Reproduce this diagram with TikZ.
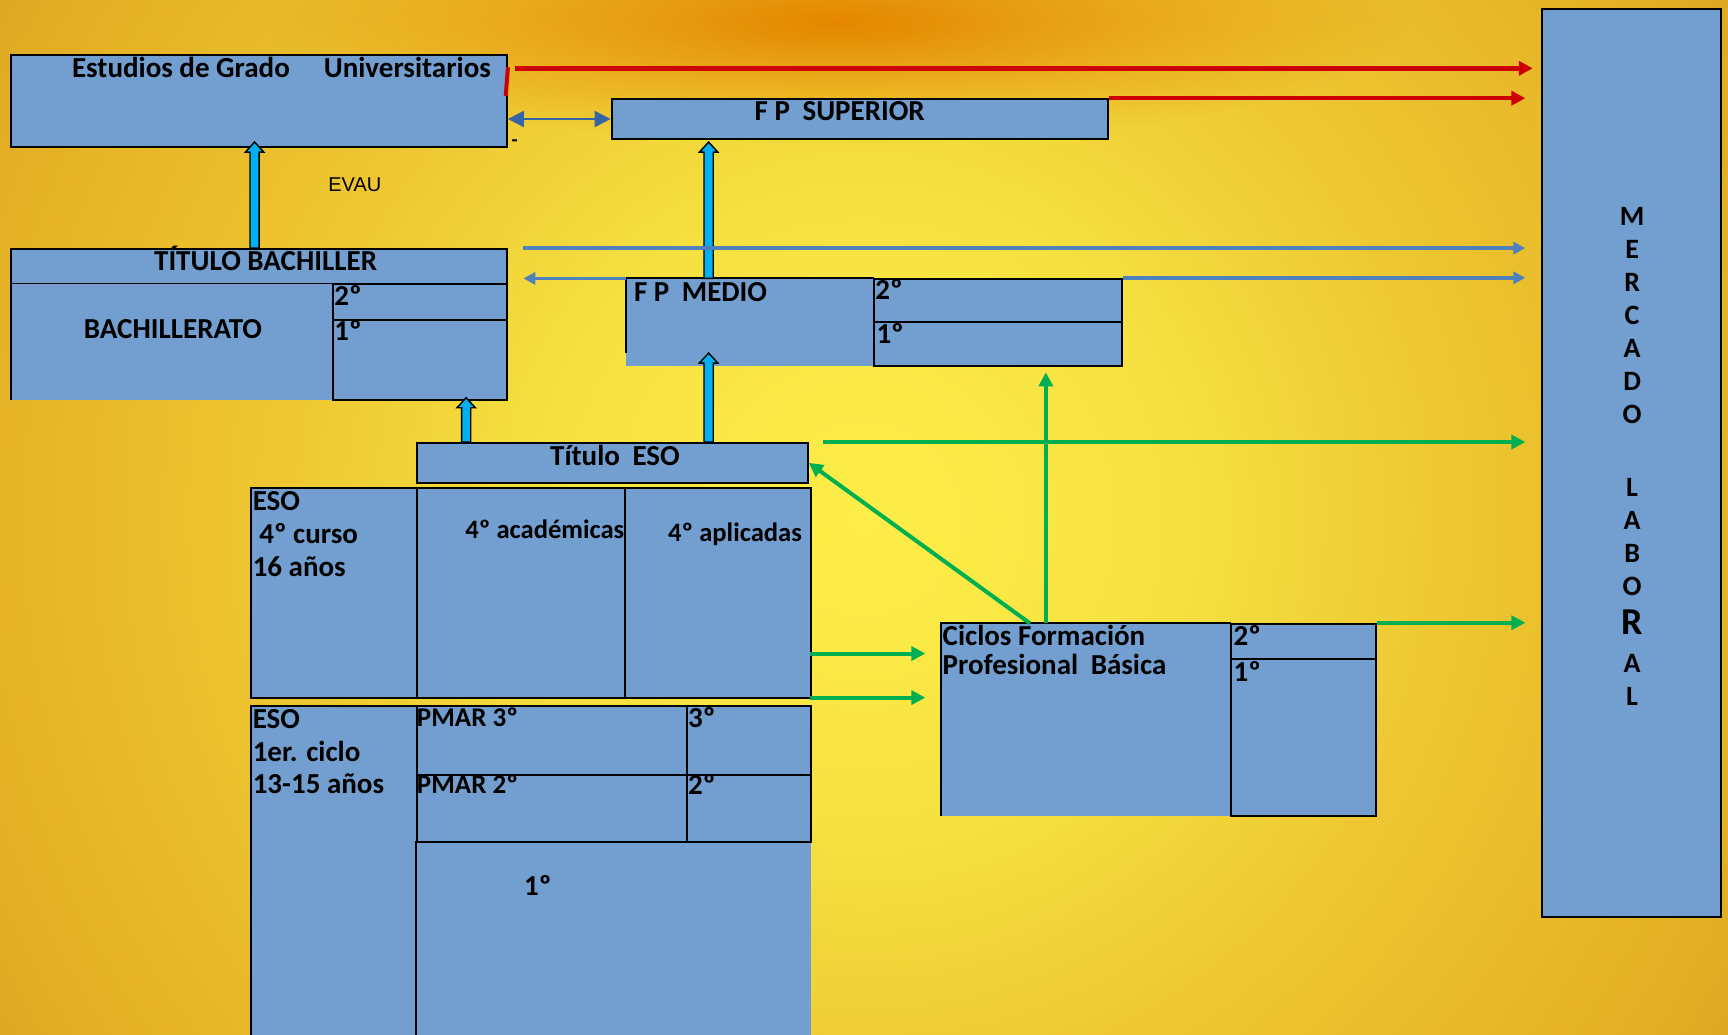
\documentclass[tikz,border=0pt]{standalone}
\usepackage{fontspec}
\setmainfont{Carlito}
\newfontfamily\arialf{Liberation Sans}
\usetikzlibrary{arrows.meta,fit,calc,fadings}
\tikzfading[name=glowfade, inner color=transparent!0, outer color=transparent!100]
\definecolor{boxblue}{RGB}{114,159,207}
\definecolor{arrcyan}{RGB}{0,176,240}
\definecolor{grn}{RGB}{0,176,80}
\definecolor{redd}{RGB}{204,0,0}
\definecolor{lblue}{RGB}{79,129,189}
\definecolor{dblue}{RGB}{52,101,164}
\definecolor{bgA}{RGB}{253,237,72}
\definecolor{bgB}{RGB}{251,233,70}
\definecolor{bgC}{RGB}{245,224,64}
\definecolor{bgD}{RGB}{238,200,50}
\definecolor{bgE}{RGB}{230,180,38}
\definecolor{bgF}{RGB}{222,164,34}
\definecolor{orng}{RGB}{228,134,0}
\pgfdeclareradialshading{bgshade}{\pgfpoint{0bp}{0bp}}{color(0bp)=(bgA); color(3bp)=(bgB); color(7.5bp)=(bgC); color(13bp)=(bgD); color(19.5bp)=(bgE); color(24bp)=(bgF); color(50bp)=(bgF)}
\newcommand\cyarrow[2]{\filldraw[fill=arrcyan,draw=black,line width=0.7pt] let \p1=#1,\p2=#2 in (\x1-2.3pt,\y1) -- (\x1-2.3pt,\y2-5pt) -- (\x1-4.6pt,\y2-5pt) -- (\x1,\y2) -- (\x1+4.6pt,\y2-5pt) -- (\x1+2.3pt,\y2-5pt) -- (\x1+2.3pt,\y1) -- cycle;}
\begin{document}
\begin{tikzpicture}[x=0.551pt,y=-0.551pt,
  box/.style={draw=black,fill=boxblue,line width=1pt,inner sep=0pt},
  fillonly/.style={fill=boxblue,inner sep=0pt},
  edge/.style={draw=black,line width=1pt},
  lbl/.style={font=\bfseries\fontsize{14.5}{16.3}\selectfont,inner sep=0pt,text=black},
  redarr/.style={draw=redd,line width=2.3pt,-{Triangle[length=7pt,width=7pt]}},
  grnarr/.style={draw=grn,line width=2pt,-{Triangle[length=7pt,width=7pt]}},
  bluearr/.style={draw=lblue,line width=1.8pt,-{Triangle[length=6pt,width=6pt]}},
]
\clip (0,0) rectangle (1568,939);
% background
\fill[bgF] (0,0) rectangle (1568,939);
\shade[shading=bgshade] (784,470) circle (1000);
\fill[orng,path fading=glowfade] (760,20) ellipse (520 and 110);

% boxes
\node[box,fit={(10,50)(460,133)}] (grado) {};
\node[box,fit={(555,90)(1005,126)}] (fpsup) {};
\node[box,fit={(10,226)(460,258)}] (titbach) {};
\node[fillonly,fit={(10,258)(302,363)}] (bach) {};
\draw[edge] (bach.south west) -- (bach.north west);
\node[box,fit={(302,258)(460,290)}] (bach2) {};
\node[box,fit={(302,290)(460,363)}] (bach1) {};

\node[fillonly,fit={(568,253)(793,332)}] (fpmed) {};
\draw[edge] ($(fpmed.south west)+(0,-12)$) -- (fpmed.north west) -- (fpmed.north east);
\node[box,fit={(793,253)(1018,292)}] (fpmed2) {};
\node[box,fit={(793,292)(1018,332)}] (fpmed1) {};

\node[box,fit={(378,402)(733,438)}] (titeso) {};
\node[box,fit={(228,443)(378,633)}] (eso4) {};
\node[box,fit={(378,443)(567,633)}] (eso4ac) {};
\node[box,fit={(567,443)(736,633)}] (eso4ap) {};

\node[box,fit={(228,641)(378,950)}] (eso1) {};
\node[box,fit={(378,641)(623,703)}] (pmar3) {};
\node[box,fit={(623,641)(736,703)}] (c3) {};
\node[box,fit={(378,703)(623,764)}] (pmar2) {};
\node[box,fit={(623,703)(736,764)}] (c2) {};
\node[fillonly,fit={(378,764)(736,950)}] (c1) {};
\draw[edge] (c1.south west) -- (c1.north west) -- (c1.north east);

\node[fillonly,fit={(854,566)(1117,740)}] (cfpb) {};
\draw[edge] (cfpb.south west) -- (cfpb.north west) -- (cfpb.north east);
\node[box,fit={(1117,566)(1249,598)}] (cfpb2) {};
\node[box,fit={(1117,598)(1249,740)}] (cfpb1) {};

\node[box,fit={(1399,8)(1562,832)}] (mercado) {};

% labels
\node[lbl,anchor=base west] (tgrado) at (65,70.5) {Estudios de Grado\hspace{17pt}Universitarios};
\node[lbl,anchor=base] (tfpsup) at (762,109.5) {F P\hspace{3pt} SUPERIOR};
\node[font=\arialf\fontsize{10}{12}\selectfont,inner sep=0pt] (evau) at (322,168) {EVAU};
\node[lbl,font=\bfseries\fontsize{10}{11}\selectfont] (dash) at (467,130) {-};
\node[lbl,anchor=base] (ttitbach) at (241,245.5) {TÍTULO BACHILLER};
\node[lbl,anchor=base] (tbach) at (157,307.5) {BACHILLERATO};
\node[lbl,anchor=base west] (tb2) at (303,277) {2º};
\node[lbl,anchor=base west] (tb1) at (303,309) {1º};
\node[lbl,anchor=base west] (tfpmed) at (575,273.5) {F P\hspace{3pt} MEDIO};
\node[lbl,anchor=base west] (tm2) at (794,272) {2º};
\node[lbl,anchor=base west] (tm1) at (795,312) {1º};
\node[lbl,anchor=base] (ttiteso) at (558,422.5) {Título\hspace{3pt} ESO};
\node[lbl,anchor=north west,align=left] (teso4) at (229,446) {ESO\\\ 4º curso\\16 años};
\node[lbl,anchor=base west,font=\bfseries\fontsize{13.3}{16}\selectfont] (tac) at (422,488.5) {4º académicas};
\node[lbl,anchor=base west,font=\bfseries\fontsize{13.3}{16}\selectfont] (tap) at (606,491.5) {4º aplicadas};
\node[lbl,anchor=north west,align=left] (teso1) at (229,643.5) {ESO\\1er. ciclo\\13-15 años};
\node[lbl,anchor=base west,font=\bfseries\fontsize{13.5}{16}\selectfont] (tp3) at (378,659) {PMAR 3º};
\node[lbl,anchor=base west] (t3) at (624,660) {3º};
\node[lbl,anchor=base west,font=\bfseries\fontsize{13.5}{16}\selectfont] (tp2) at (378,720) {PMAR 2º};
\node[lbl,anchor=base west] (t2) at (624,721) {2º};
\node[lbl,anchor=base] (t1) at (488,813) {1º};
\node[lbl,anchor=north west,align=left,font=\bfseries\fontsize{14.5}{14.9}\selectfont] (tcfpb) at (855,566.5) {Ciclos Formación\\Profesional\hspace{3pt} Básica};
\node[lbl,anchor=base west] (tc2) at (1119,586) {2º};
\node[lbl,anchor=base west] (tc1) at (1119,618) {1º};
\node[lbl,anchor=north,align=center,font=\bfseries\fontsize{14}{16.5}\selectfont] (tmerc) at (1481,188)
  {M\\E\\R\\C\\A\\D\\O\\[20pt]L\\A\\B\\O\\[3pt]{\fontsize{19}{16.5}\selectfont R}\\[2.5pt]A\\L};

% red arrows
\coordinate (r1s) at (467,62);
\draw[redarr,shorten >=4pt] (r1s) -- (r1s -| mercado.west);
\draw[redarr,shorten >=7.7pt] (fpsup.north east) -- (fpsup.north east -| mercado.west);
\draw[redd,line width=2pt] ($(grado.north east)+(0,12)$) -- ($(grado.north east)+(-2,38)$);
% blue double arrow
\draw[dblue,line width=1pt,{Triangle[length=8pt,width=8pt]}-{Triangle[length=8pt,width=8pt]}] (grado.east |- fpsup.west) -- (fpsup.west);

% cyan block arrows
\coordinate (ca) at (231,0);
\coordinate (cb) at (643,0);
\coordinate (cc) at (423,0);
\cyarrow{(ca |- titbach.north)}{($(ca |- grado.south)+(0,-5)$)}
\cyarrow{(cb |- fpmed.north)}{($(cb |- fpsup.south)+(0,2)$)}
\cyarrow{(cb |- titeso.north)}{($(cb |- fpmed.south)+(0,-12)$)}
\cyarrow{(cc |- titeso.north)}{($(cc |- bach1.south)+(0,-3)$)}

% blue lines
\coordinate (b1) at ($(titbach.north east)+(14,0)$);
\draw[bluearr,shorten >=7.7pt] (b1) -- (b1 -| mercado.west);
\draw[bluearr] (fpmed.north west) -- ($(titbach.east |- fpmed.north)+(14,0)$);
\draw[bluearr,shorten >=7.7pt] (fpmed2.north east) -- (fpmed2.north east -| mercado.west);

% green arrows
\coordinate (g1) at ($(titeso.north east)+(13,0)$);
\draw[grnarr,shorten >=7.7pt] (g1) -- (g1 -| mercado.west);
\coordinate (g2) at (949,0);
\draw[grnarr] (g2 |- cfpb.north) -- ($(g2 |- fpmed1.south)+(0,5)$);
\draw[grnarr] ($(cfpb.north west)+(81,0)$) -- (titeso.east);
\coordinate (g3) at (735,593);
\coordinate (g4) at (735,633);
\draw[grnarr,shorten >=7.7pt] (g3) -- (g3 -| cfpb.west);
\draw[grnarr,shorten >=7.7pt] (g4) -- (g4 -| cfpb.west);
\draw[grnarr,shorten >=7.7pt] (cfpb2.north east) -- (cfpb2.north east -| mercado.west);
\end{tikzpicture}
\end{document}
